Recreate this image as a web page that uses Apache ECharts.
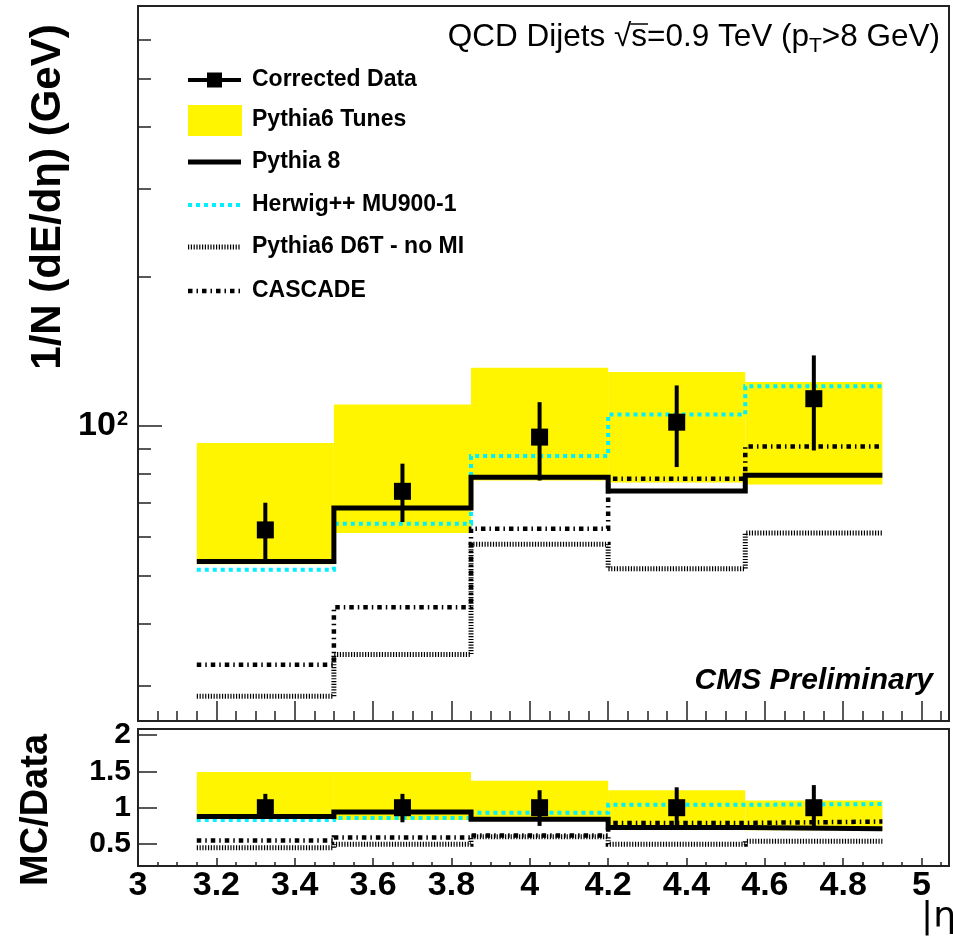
<!DOCTYPE html>
<html><head><meta charset="utf-8">
<script src="https://cdn.jsdelivr.net/npm/echarts@6/dist/echarts.min.js"></script>
<style>html,body{margin:0;padding:0;background:#fff}#c{width:953px;height:938px}</style>
</head><body><div id="c"></div>
<script>
// ---- data ----
const binEdges = [3.15, 3.5, 3.85, 4.2, 4.55, 4.9];
const binCenters = [3.325, 3.675, 4.025, 4.375, 4.725];
const dataValues = [61.8, 73.9, 95.0, 101.8, 113.5];
const dataErrLow = [53.7, 64.1, 77.7, 82.7, 89.3];
const dataErrHigh = [70.1, 84.0, 111.7, 120.7, 138.7];
const tunesLow = [52.7, 60.9, 77.7, 77.0, 76.3];
const tunesHigh = [92.4, 110.5, 131.0, 128.4, 122.6];
const pythia8 = [53.4, 68.4, 78.9, 74.0, 79.6];
const herwig = [51.4, 63.6, 87.0, 105.5, 120.2];
const d6tNoMI = [28.6, 34.7, 57.8, 51.6, 60.9];
const cascade = [33.1, 43.2, 62.1, 78.3, 91.0];

const ratioData = [1, 1, 1, 1, 1];
const ratioErrLow = [0.85, 0.80, 0.75, 0.72, 0.70];
const ratioErrHigh = [1.19, 1.19, 1.24, 1.28, 1.31];
const ratioTunesLow = [0.85, 0.83, 0.83, 0.76, 0.69];
const ratioTunesHigh = [1.49, 1.49, 1.37, 1.24, 1.10];
const ratioPythia8 = [0.88, 0.94, 0.84, 0.73, 0.71];
const ratioHerwig = [0.83, 0.86, 0.93, 1.04, 1.05];
const ratioD6T = [0.45, 0.50, 0.60, 0.50, 0.54];
const ratioCascade = [0.55, 0.59, 0.62, 0.79, 0.81];

const xTickValues = [3, 3.2, 3.4, 3.6, 3.8, 4, 4.2, 4.4, 4.6, 4.8, 5];
const xTickLabels = ['3', '3.2', '3.4', '3.6', '3.8', '4', '4.2', '4.4', '4.6', '4.8', '5'];
const yMajorTicks = [100];
const yMinorTicks = [30, 40, 50, 60, 70, 80, 90, 200, 300, 400, 500, 600];
const ratioTickValues = [0.5, 1, 1.5, 2];
const ratioTickLabels = ['0.5', '1', '1.5', '2'];
const legendLabels = ['Corrected Data', 'Pythia6 Tunes', 'Pythia 8', 'Herwig++ MU900-1', 'Pythia6 D6T - no MI', 'CASCADE'];

// ---- helpers ----
const xMinorTicks = [];
for (let k = 0; k <= 41; k++) {
  const v = +(3 + k * 0.05).toFixed(2);
  if (v <= 5.07 && !xTickValues.some(t => Math.abs(t - v) < 1e-9)) xMinorTicks.push(v);
}
const FONT = '"Liberation Sans", Arial, Helvetica, sans-serif';
const FRAME = '#222';

const styles = {
  pythia8: { color: '#000', width: 5, type: 'solid' },
  herwig: { color: '#00f0ff', width: 4, type: [4, 4] },
  d6t: { color: '#000', width: 5, type: [1.2, 1.6] },
  cascade: { color: '#000', width: 4.5, type: [4.5, 4, 1.5, 4] }
};

function stepSeries(name, values, st, xi, yi, z) {
  const data = binEdges.map((e, i) => [e, values[Math.min(i, values.length - 1)]]);
  return {
    name, type: 'line', step: 'end', xAxisIndex: xi, yAxisIndex: yi, data,
    showSymbol: false, symbol: 'none', silent: true, z,
    lineStyle: { color: st.color, width: st.width, type: st.type, cap: 'butt', join: 'miter', opacity: 1 },
    animation: false
  };
}
function bandSeries(lo, hi, xi, yi) {
  return {
    type: 'custom', xAxisIndex: xi, yAxisIndex: yi, z: 1, silent: true, animation: false,
    encode: { x: [0, 1], y: [2, 3] },
    data: lo.map((l, i) => [binEdges[i], binEdges[i + 1], l, hi[i]]),
    renderItem(params, api) {
      const p1 = api.coord([api.value(0), api.value(3)]);
      const p2 = api.coord([api.value(1), api.value(2)]);
      return { type: 'rect', shape: { x: p1[0], y: p1[1], width: p2[0] - p1[0], height: p2[1] - p1[1] },
               style: { fill: '#fff500' } };
    }
  };
}
function errSeries(lo, hi, xi, yi) {
  return {
    type: 'custom', xAxisIndex: xi, yAxisIndex: yi, z: 8, silent: true, animation: false,
    encode: { x: 0, y: [1, 2] },
    data: binCenters.map((c, i) => [c, lo[i], hi[i]]),
    renderItem(params, api) {
      const p1 = api.coord([api.value(0), api.value(1)]);
      const p2 = api.coord([api.value(0), api.value(2)]);
      return { type: 'line', shape: { x1: p1[0], y1: p1[1], x2: p2[0], y2: p2[1] },
               style: { stroke: '#000', lineWidth: 4 } };
    }
  };
}
function pointSeries(vals, xi, yi) {
  return {
    type: 'scatter', xAxisIndex: xi, yAxisIndex: yi, z: 9, silent: true, animation: false,
    symbol: 'rect', symbolSize: 17, itemStyle: { color: '#000', opacity: 1 },
    data: binCenters.map((c, i) => [c, vals[i]])
  };
}

const X_MIN = 3, X_MAX = 5.07;
function xAx(grid, ticks, len, labels) {
  return {
    type: 'value', gridIndex: grid, min: X_MIN, max: X_MAX, position: 'bottom',
    axisLine: { show: false, onZero: false }, splitLine: { show: false },
    axisTick: { show: true, inside: true, length: len, customValues: ticks, lineStyle: { color: FRAME, width: 1.5 } },
    axisLabel: labels ? {
      show: true, customValues: xTickValues, margin: 3,
      formatter: v => { const i = xTickValues.findIndex(t => Math.abs(t - v) < 1e-6); return i >= 0 ? xTickLabels[i] : ''; },
      fontFamily: FONT, fontWeight: 'bold', fontSize: 34, color: '#000'
    } : { show: false }
  };
}

const option = {
  backgroundColor: '#fff',
  animation: false,
  grid: [
    { left: 138, right: 4, top: 6, height: 715, show: true, borderColor: FRAME, borderWidth: 2, backgroundColor: 'transparent' },
    { left: 138, right: 4, top: 729, height: 137, show: true, borderColor: FRAME, borderWidth: 2, backgroundColor: 'transparent' }
  ],
  xAxis: [
    xAx(0, xTickValues, 20, false),
    xAx(0, xMinorTicks, 10, false),
    xAx(1, xTickValues, 8, true),
    xAx(1, xMinorTicks, 4, false)
  ],
  yAxis: [
    {
      type: 'log', logBase: 10, gridIndex: 0, min: 25.5, max: 700, position: 'left',
      axisLine: { show: false }, splitLine: { show: false },
      axisTick: { show: true, inside: true, length: 24, customValues: yMajorTicks, lineStyle: { color: FRAME, width: 1.5 } },
      axisLabel: {
        show: true, customValues: yMajorTicks, margin: 10,
        formatter: () => '{b|10}{s|2}',
        rich: {
          b: { fontFamily: FONT, fontWeight: 'bold', fontSize: 34, color: '#000', verticalAlign: 'bottom' },
          s: { fontFamily: FONT, fontWeight: 'bold', fontSize: 20, color: '#000', verticalAlign: 'top', padding: [0, 0, 14, 1] }
        }
      }
    },
    {
      type: 'log', logBase: 10, gridIndex: 0, min: 25.5, max: 700, position: 'left',
      axisLine: { show: false }, splitLine: { show: false },
      axisTick: { show: true, inside: true, length: 13, customValues: yMinorTicks, lineStyle: { color: FRAME, width: 1.5 } },
      axisLabel: { show: false }
    },
    {
      type: 'value', gridIndex: 1, min: 0.2, max: 2.08, position: 'left',
      axisLine: { show: false }, splitLine: { show: false },
      axisTick: { show: true, inside: true, length: 19, customValues: ratioTickValues, lineStyle: { color: FRAME, width: 1.5 } },
      axisLabel: {
        show: true, customValues: ratioTickValues, margin: 7,
        formatter: v => { const i = ratioTickValues.findIndex(t => Math.abs(t - v) < 1e-6); return i >= 0 ? ratioTickLabels[i] : ''; },
        fontFamily: FONT, fontWeight: 'bold', fontSize: 30, color: '#000'
      }
    }
  ],
  series: [
    bandSeries(tunesLow, tunesHigh, 0, 0),
    stepSeries('Pythia6 D6T - no MI', d6tNoMI, styles.d6t, 0, 0, 3),
    stepSeries('CASCADE', cascade, styles.cascade, 0, 0, 4),
    stepSeries('Herwig++ MU900-1', herwig, styles.herwig, 0, 0, 5),
    stepSeries('Pythia 8', pythia8, styles.pythia8, 0, 0, 6),
    errSeries(dataErrLow, dataErrHigh, 0, 0),
    pointSeries(dataValues, 0, 0),

    bandSeries(ratioTunesLow, ratioTunesHigh, 2, 2),
    stepSeries('r D6T', ratioD6T, styles.d6t, 2, 2, 3),
    stepSeries('r CASCADE', ratioCascade, styles.cascade, 2, 2, 4),
    stepSeries('r Herwig', ratioHerwig, styles.herwig, 2, 2, 5),
    stepSeries('r Pythia8', ratioPythia8, styles.pythia8, 2, 2, 6),
    errSeries(ratioErrLow, ratioErrHigh, 2, 2),
    pointSeries(ratioData, 2, 2)
  ],
  graphic: []
};

// ---- texts and legend ----
const g = option.graphic;
const TFS = 31.5, SFS = 21, TRIGHT = 940, TY = 37;
const T1 = 'QCD Dijets √s=0.9 TeV (p', T2 = 'T', T3 = '>8 GeV)';
const mctx = document.createElement('canvas').getContext('2d');
function tw(t, f) { mctx.font = f; return mctx.measureText(t).width; }
const nf = TFS + 'px ' + FONT, sf = SFS + 'px ' + FONT;
const totalW = tw(T1, nf) + tw(T2, sf) + tw(T3, nf);
const sx0 = TRIGHT - totalW + tw('QCD Dijets √', nf);
const sx1 = sx0 + tw('s', nf);
g.push({
  type: 'text', x: TRIGHT, y: TY, z: 20,
  style: {
    text: '{n|' + T1 + '}{sub|' + T2 + '}{n|' + T3 + '}', align: 'right', verticalAlign: 'middle',
    rich: {
      n: { fontFamily: FONT, fontSize: TFS, fill: '#000', color: '#000' },
      sub: { fontFamily: FONT, fontSize: SFS, fill: '#000', color: '#000', padding: [19, 0, 0, 0] }
    }
  }
});
g.push({ type: 'line', z: 20, shape: { x1: sx0 - 1, y1: TY - 13, x2: sx1 + 1, y2: TY - 13 }, style: { stroke: '#000', lineWidth: 1.5 } });
g.push({ type: 'text', x: 933, y: 681, z: 20,
  style: { text: 'CMS Preliminary', align: 'right', verticalAlign: 'middle', fill: '#000',
           font: 'italic bold 30px ' + FONT } });
g.push({ type: 'text', x: 48, y: 197, rotation: Math.PI / 2, z: 20,
  style: { text: '1/N (dE/dη) (GeV)', align: 'center', verticalAlign: 'middle', fill: '#000',
           font: 'bold 42px ' + FONT } });
g.push({ type: 'text', x: 37, y: 810, rotation: Math.PI / 2, z: 20,
  style: { text: 'MC/Data', align: 'center', verticalAlign: 'middle', fill: '#000',
           font: 'bold 38px ' + FONT } });
g.push({ type: 'text', x: 921, y: 918, z: 20,
  style: { text: '|η|', align: 'left', verticalAlign: 'middle', fill: '#000',
           font: '36px "DejaVu Sans", sans-serif' } });

const LX1 = 188, LX2 = 241, TX = 252;
const rowY = [80, 120, 162, 205, 247, 291];
legendLabels.forEach((lab, i) => {
  g.push({ type: 'text', x: TX, y: rowY[i], z: 20,
    style: { text: lab, align: 'left', verticalAlign: 'middle', fill: '#000', font: 'bold 23px ' + FONT } });
});
const ln = (y, st) => ({ type: 'line', z: 20, shape: { x1: LX1, y1: y, x2: LX2, y2: y },
  style: { stroke: st.color, lineWidth: st.width, lineDash: st.type === 'solid' ? null : st.type } });
g.push(ln(rowY[0], { color: '#000', width: 4, type: 'solid' }));
g.push({ type: 'rect', z: 21, shape: { x: (LX1 + LX2) / 2 - 7.5, y: rowY[0] - 7.5, width: 15, height: 15 }, style: { fill: '#000' } });
g.push({ type: 'rect', z: 20, shape: { x: LX1, y: rowY[1] - 15, width: LX2 - LX1 + 1, height: 31 }, style: { fill: '#fff500' } });
g.push(ln(rowY[2], styles.pythia8));
g.push(ln(rowY[3], styles.herwig));
g.push(ln(rowY[4], styles.d6t));
g.push(ln(rowY[5], styles.cascade));

const chart = echarts.init(document.getElementById('c'), null, { renderer: 'canvas' });
chart.setOption(option);
</script>
</body></html>
